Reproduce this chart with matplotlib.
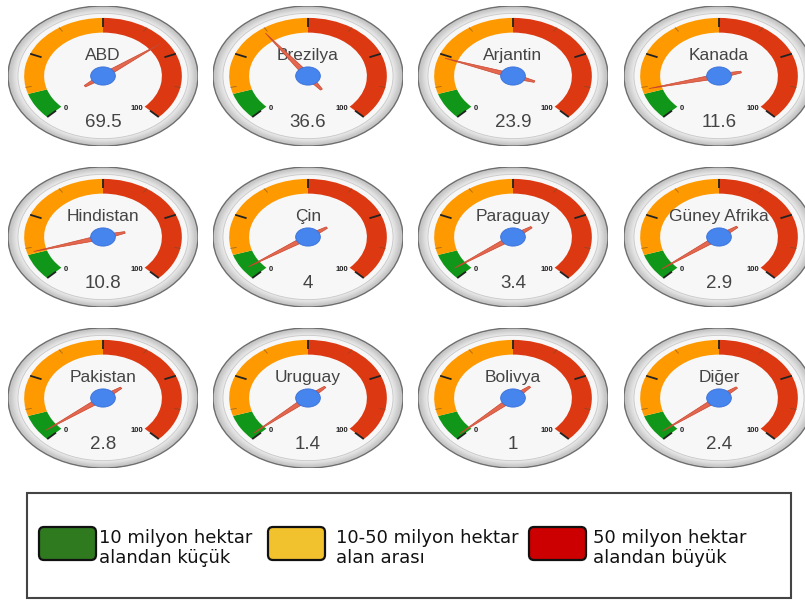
import numpy as np
import matplotlib
matplotlib.use("Agg")
import matplotlib.pyplot as plt
from matplotlib import font_manager
from matplotlib.patches import Circle, Wedge, Polygon, FancyBboxPatch, Rectangle

# Genetically modified crop area by country (million hectares)
countries = ["ABD", "Brezilya", "Arjantin", "Kanada",
             "Hindistan", "Çin", "Paraguay", "Güney Afrika",
             "Pakistan", "Uruguay", "Bolivya", "Diğer"]
areas = [69.5, 36.6, 23.9, 11.6,
         10.8, 4, 3.4, 2.9,
         2.8, 1.4, 1, 2.4]

scale_min, scale_max = 0, 100
band_limits = [0, 10, 50, 100]
band_colors = ["#109618", "#FF9900", "#DC3912"]

legend_labels = ["10 milyon hektar\nalandan küçük",
                 "10-50 milyon hektar\nalan arası",
                 "50 milyon hektar\nalandan büyük"]
legend_colors = ["#2f7a1f", "#f2c12e", "#cc0000"]

W, H = 805, 603
fig = plt.figure(figsize=(W / 100, H / 100), dpi=100)
fig.patch.set_facecolor("white")

GAUGE_FONT = ["Liberation Sans", "DejaVu Sans"]

# narrow face for the legend if one is available
_names = {f.name for f in font_manager.fontManager.ttflist}
if "Liberation Sans Narrow" in _names:
    LEGEND_FONT, LEGEND_SIZE = ["Liberation Sans Narrow", "DejaVu Sans"], 15
else:
    LEGEND_FONT, LEGEND_SIZE = ["DejaVu Sans"], 13


def angle_of(v):
    """Gauge angle in degrees: 0 at lower-left, 100 at lower-right."""
    frac = (v - scale_min) / (scale_max - scale_min)
    return 225.0 - 270.0 * frac


def draw_gauge(ax, label, value):
    ax.set_xlim(-1, 1)
    ax.set_ylim(-1, 1)
    ax.axis("off")

    # bezel: dark rim with a soft grey gradient
    ax.add_patch(Circle((0, 0), 1.0, facecolor="#c4c4c4", edgecolor="#6e6e6e", lw=1.0, zorder=1))
    for r, c in zip(np.linspace(0.985, 0.9, 8),
                    ["#c6c6c6", "#cbcbcb", "#d1d1d1", "#d7d7d7",
                     "#dddddd", "#e2e2e2", "#e7e7e7", "#ebebeb"]):
        ax.add_patch(Circle((0, 0), r, facecolor=c, edgecolor="none", zorder=1))
    ax.add_patch(Circle((0, 0), 0.895, facecolor="#f7f7f7", edgecolor="#c8c8c8", lw=0.6, zorder=2))

    # colour bands
    r_out, width = 0.83, 0.21
    for lo, hi, col in zip(band_limits[:-1], band_limits[1:], band_colors):
        ax.add_patch(Wedge((0, 0), r_out, angle_of(hi), angle_of(lo), width=width,
                           facecolor=col, edgecolor="none", zorder=3))

    # ticks
    for v in np.arange(0, 101, 25):
        a = np.radians(angle_of(v))
        ax.plot([0.70 * np.cos(a), r_out * np.cos(a)], [0.70 * np.sin(a), r_out * np.sin(a)],
                color="#222222", lw=1.3, zorder=4, solid_capstyle="butt")
    for v in np.arange(12.5, 100, 25):
        a = np.radians(angle_of(v))
        ax.plot([0.77 * np.cos(a), r_out * np.cos(a)], [0.77 * np.sin(a), r_out * np.sin(a)],
                color="#6a4a2a", lw=0.6, zorder=4, alpha=0.6)

    # texts
    ax.text(0, 0.29, label, ha="center", va="center", fontsize=12.5, color="#444444",
            family=GAUGE_FONT, zorder=5)
    ax.text(0, -0.67, f"{value:g}", ha="center", va="center", fontsize=13.5, color="#444444",
            family=GAUGE_FONT, zorder=5)
    ax.text(-0.39, -0.46, f"{scale_min}", ha="center", va="center", fontsize=5.5,
            color="#222222", family=GAUGE_FONT, fontweight="bold", zorder=5)
    ax.text(0.36, -0.46, f"{scale_max}", ha="center", va="center", fontsize=5.5,
            color="#222222", family=GAUGE_FONT, fontweight="bold", zorder=5)

    # needle
    a = np.radians(angle_of(value))
    d = np.array([np.cos(a), np.sin(a)])
    n = np.array([-np.sin(a), np.cos(a)])
    tip = 0.76 * d
    tail = -0.24 * d
    base = 0.035
    pts = [tip, base * n, tail + 0.012 * n, tail - 0.012 * n, -base * n]
    ax.add_patch(Polygon(pts, closed=True, facecolor="#e4684f", edgecolor="#c9442c",
                         lw=0.5, zorder=6))

    # hub
    ax.add_patch(Circle((0, 0), 0.13, facecolor="#4684EE", edgecolor="#3a70d6", lw=0.6, zorder=7))


col_cx = [103, 308, 513, 719]
row_cy = [76, 237, 398]
half_w, half_h = 95, 70

for i, (lab, val) in enumerate(zip(countries, areas)):
    cx = col_cx[i % 4]
    cy = row_cy[i // 4]
    ax = fig.add_axes([(cx - half_w) / W, 1 - (cy + half_h) / H, 2 * half_w / W, 2 * half_h / H])
    draw_gauge(ax, lab, val)

# legend panel (pixel coordinates, y downward)
lx0, lx1, ly0, ly1 = 27, 791, 493, 598
lax = fig.add_axes([0, 0, 1, 1], zorder=10)
lax.set_xlim(0, W)
lax.set_ylim(H, 0)
lax.axis("off")
lax.patch.set_alpha(0)
lax.add_patch(Rectangle((lx0, ly0), lx1 - lx0, ly1 - ly0, facecolor="white",
                        edgecolor="#444444", lw=1.5))

box_x = [39, 268, 529]
text_x = [99, 336, 593]
for bx, tx, lab, col in zip(box_x, text_x, legend_labels, legend_colors):
    lax.add_patch(FancyBboxPatch((bx + 3, 530), 51, 27,
                                 boxstyle="round,pad=3,rounding_size=5",
                                 facecolor=col, edgecolor="#111111", lw=1.6))
    lax.text(tx, 548, lab, ha="left", va="center", fontsize=LEGEND_SIZE, color="#111111",
             family=LEGEND_FONT, linespacing=1.2)

fig.savefig("out.png", dpi=100, facecolor="white")
